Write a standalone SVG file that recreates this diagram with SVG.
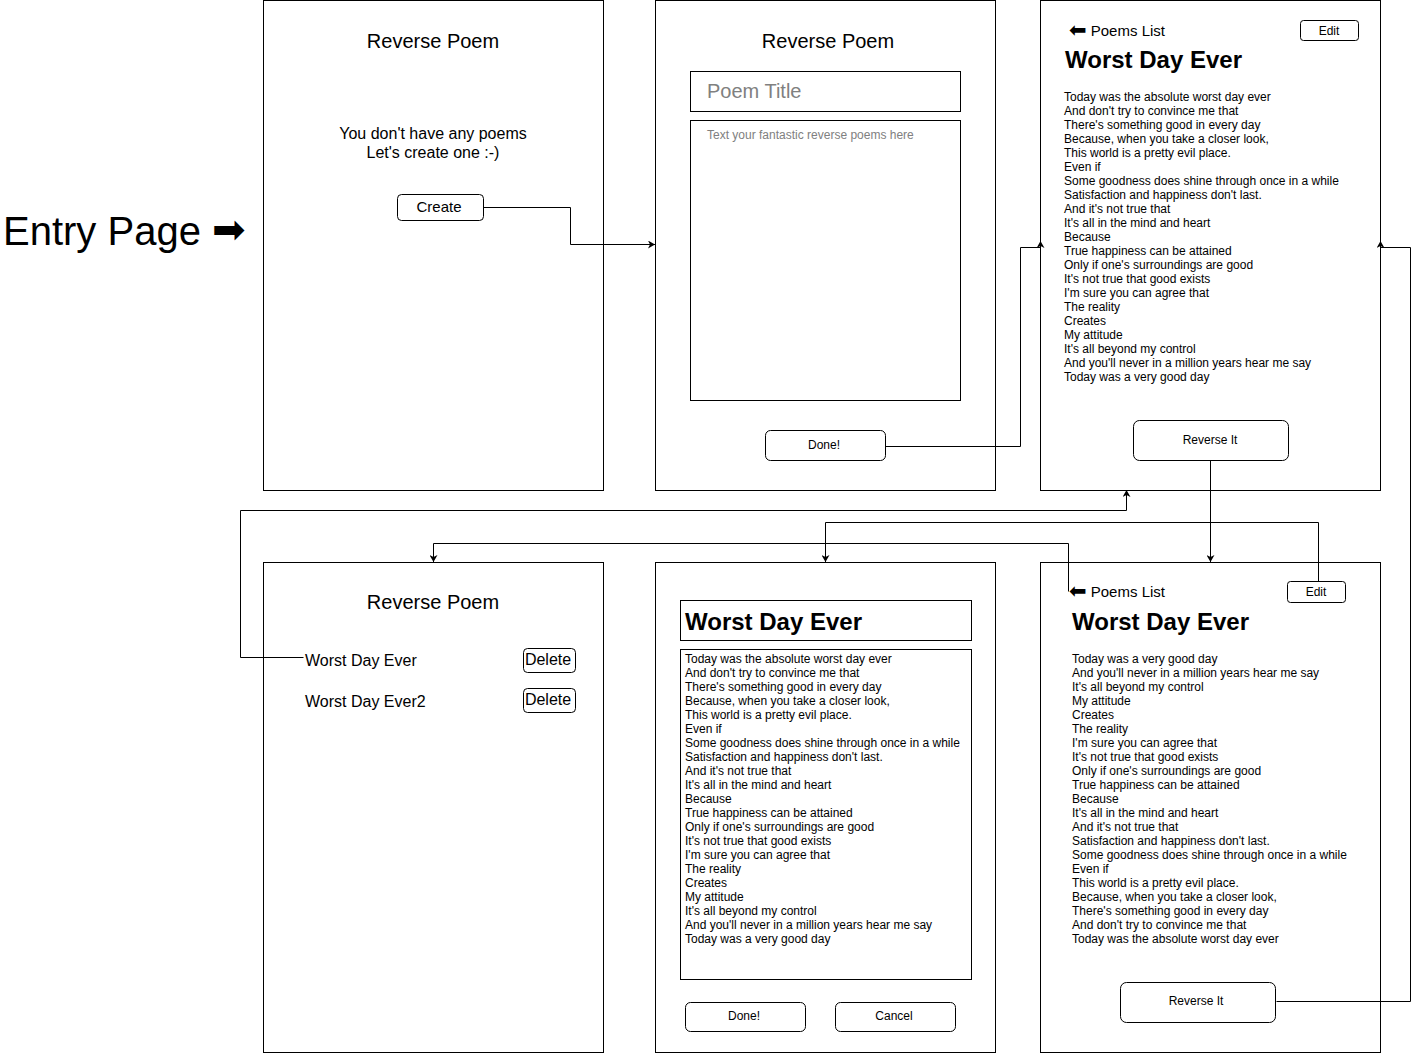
<svg xmlns="http://www.w3.org/2000/svg" width="1421" height="1053" viewBox="0 0 1421 1053">
<defs>
<marker id="arr" markerWidth="8" markerHeight="8" refX="7" refY="4" orient="auto" markerUnits="userSpaceOnUse">
<path d="M0,0 L7,4 L0,8 L2,4 Z" fill="#000"/>
</marker>
</defs>
<style>
text{font-family:"Liberation Sans",Arial,"DejaVu Sans",sans-serif;fill:#000}
.frame{fill:#fff;stroke:#000;stroke-width:1}
.box{fill:#fff;stroke:#000;stroke-width:1}
.btn{fill:#fff;stroke:#000;stroke-width:1}
.h{font-size:20px;text-anchor:middle}
.t15{font-size:15px}
.t16{font-size:16px}
.t12{font-size:12px}
.c{text-anchor:middle}
.b24{font-size:24px;font-weight:bold}
.gray{fill:#808080}
.sym{font-family:"DejaVu Sans",sans-serif}
.conn{fill:none;stroke:#000;stroke-width:1}
</style>
<rect width="1421" height="1053" fill="#fff"/>

<g id="entry-label">
<text x="3" y="245" style="font-size:40px">Entry Page <tspan class="sym" style="font-size:40px" dy="-2">➡</tspan></text>
</g>

<g id="screen-empty">
<rect class="frame" x="263.5" y="0.5" width="340" height="490"/>
<text class="h" x="433" y="48">Reverse Poem</text>
<text class="t16 c" x="433" y="139">You don't have any poems</text>
<text class="t16 c" x="433" y="158">Let's create one :-)</text>
<rect class="btn" x="397.5" y="194.5" width="86" height="26" rx="4"/>
<text class="t15 c" x="439" y="212">Create</text>
</g>

<g id="screen-new">
<rect class="frame" x="655.5" y="0.5" width="340" height="490"/>
<text class="h" x="828" y="48">Reverse Poem</text>
<rect class="box" x="690.5" y="71.5" width="270" height="40"/>
<text class="gray" x="707" y="98" style="font-size:20px">Poem Title</text>
<rect class="box" x="690.5" y="120.5" width="270" height="280"/>
<text class="t12 gray" x="707" y="139">Text your fantastic reverse poems here</text>
<rect class="btn" x="765.5" y="430.5" width="120" height="30" rx="5"/>
<text class="t12 c" x="824" y="449">Done!</text>
</g>

<g id="screen-view">
<rect class="frame" x="1040.5" y="0.5" width="340" height="490"/>
<text class="t15" x="1069" y="36"><tspan class="sym" style="font-size:21px" dy="1">⬅</tspan><tspan dy="-1"> Poems List</tspan></text>
<rect class="btn" x="1300.5" y="20.5" width="58" height="20" rx="3"/>
<text class="t12 c" x="1329" y="35">Edit</text>
<text class="b24" x="1065" y="68">Worst Day Ever</text>
<text class="t12" x="1064" y="101">
<tspan x="1064" dy="0">Today was the absolute worst day ever</tspan>
<tspan x="1064" dy="14">And don't try to convince me that</tspan>
<tspan x="1064" dy="14">There's something good in every day</tspan>
<tspan x="1064" dy="14">Because, when you take a closer look,</tspan>
<tspan x="1064" dy="14">This world is a pretty evil place.</tspan>
<tspan x="1064" dy="14">Even if</tspan>
<tspan x="1064" dy="14">Some goodness does shine through once in a while</tspan>
<tspan x="1064" dy="14">Satisfaction and happiness don't last.</tspan>
<tspan x="1064" dy="14">And it's not true that</tspan>
<tspan x="1064" dy="14">It's all in the mind and heart</tspan>
<tspan x="1064" dy="14">Because</tspan>
<tspan x="1064" dy="14">True happiness can be attained</tspan>
<tspan x="1064" dy="14">Only if one's surroundings are good</tspan>
<tspan x="1064" dy="14">It's not true that good exists</tspan>
<tspan x="1064" dy="14">I'm sure you can agree that</tspan>
<tspan x="1064" dy="14">The reality</tspan>
<tspan x="1064" dy="14">Creates</tspan>
<tspan x="1064" dy="14">My attitude</tspan>
<tspan x="1064" dy="14">It's all beyond my control</tspan>
<tspan x="1064" dy="14">And you'll never in a million years hear me say</tspan>
<tspan x="1064" dy="14">Today was a very good day</tspan>
</text>
<rect class="btn" x="1133.5" y="420.5" width="155" height="40" rx="6"/>
<text class="t12 c" x="1210" y="444">Reverse It</text>
</g>

<g id="screen-list">
<rect class="frame" x="263.5" y="562.5" width="340" height="490"/>
<text class="h" x="433" y="609">Reverse Poem</text>
<text class="t16" x="305" y="666">Worst Day Ever</text>
<text class="t16" x="305" y="707">Worst Day Ever2</text>
<rect class="btn" x="523.5" y="648.5" width="52" height="24" rx="4"/>
<text class="t16 c" x="548" y="665">Delete</text>
<rect class="btn" x="523.5" y="688.5" width="52" height="24" rx="4"/>
<text class="t16 c" x="548" y="705">Delete</text>
</g>

<g id="screen-edit">
<rect class="frame" x="655.5" y="562.5" width="340" height="490"/>
<rect class="box" x="680.5" y="600.5" width="291" height="40"/>
<text class="b24" x="685" y="630">Worst Day Ever</text>
<rect class="box" x="680.5" y="649.5" width="291" height="330"/>
<text class="t12" x="685" y="663">
<tspan x="685" dy="0">Today was the absolute worst day ever</tspan>
<tspan x="685" dy="14">And don't try to convince me that</tspan>
<tspan x="685" dy="14">There's something good in every day</tspan>
<tspan x="685" dy="14">Because, when you take a closer look,</tspan>
<tspan x="685" dy="14">This world is a pretty evil place.</tspan>
<tspan x="685" dy="14">Even if</tspan>
<tspan x="685" dy="14">Some goodness does shine through once in a while</tspan>
<tspan x="685" dy="14">Satisfaction and happiness don't last.</tspan>
<tspan x="685" dy="14">And it's not true that</tspan>
<tspan x="685" dy="14">It's all in the mind and heart</tspan>
<tspan x="685" dy="14">Because</tspan>
<tspan x="685" dy="14">True happiness can be attained</tspan>
<tspan x="685" dy="14">Only if one's surroundings are good</tspan>
<tspan x="685" dy="14">It's not true that good exists</tspan>
<tspan x="685" dy="14">I'm sure you can agree that</tspan>
<tspan x="685" dy="14">The reality</tspan>
<tspan x="685" dy="14">Creates</tspan>
<tspan x="685" dy="14">My attitude</tspan>
<tspan x="685" dy="14">It's all beyond my control</tspan>
<tspan x="685" dy="14">And you'll never in a million years hear me say</tspan>
<tspan x="685" dy="14">Today was a very good day</tspan>
</text>
<rect class="btn" x="685.5" y="1002.5" width="120" height="29" rx="5"/>
<text class="t12 c" x="744" y="1020">Done!</text>
<rect class="btn" x="835.5" y="1002.5" width="120" height="29" rx="5"/>
<text class="t12 c" x="894" y="1020">Cancel</text>
</g>

<g id="screen-reversed">
<rect class="frame" x="1040.5" y="562.5" width="340" height="490"/>
<text class="t15" x="1069" y="597"><tspan class="sym" style="font-size:21px" dy="1">⬅</tspan><tspan dy="-1"> Poems List</tspan></text>
<rect class="btn" x="1287.5" y="581.5" width="58" height="21" rx="3"/>
<text class="t12 c" x="1316" y="596">Edit</text>
<text class="b24" x="1072" y="630">Worst Day Ever</text>
<text class="t12" x="1072" y="663">
<tspan x="1072" dy="0">Today was a very good day</tspan>
<tspan x="1072" dy="14">And you'll never in a million years hear me say</tspan>
<tspan x="1072" dy="14">It's all beyond my control</tspan>
<tspan x="1072" dy="14">My attitude</tspan>
<tspan x="1072" dy="14">Creates</tspan>
<tspan x="1072" dy="14">The reality</tspan>
<tspan x="1072" dy="14">I'm sure you can agree that</tspan>
<tspan x="1072" dy="14">It's not true that good exists</tspan>
<tspan x="1072" dy="14">Only if one's surroundings are good</tspan>
<tspan x="1072" dy="14">True happiness can be attained</tspan>
<tspan x="1072" dy="14">Because</tspan>
<tspan x="1072" dy="14">It's all in the mind and heart</tspan>
<tspan x="1072" dy="14">And it's not true that</tspan>
<tspan x="1072" dy="14">Satisfaction and happiness don't last.</tspan>
<tspan x="1072" dy="14">Some goodness does shine through once in a while</tspan>
<tspan x="1072" dy="14">Even if</tspan>
<tspan x="1072" dy="14">This world is a pretty evil place.</tspan>
<tspan x="1072" dy="14">Because, when you take a closer look,</tspan>
<tspan x="1072" dy="14">There's something good in every day</tspan>
<tspan x="1072" dy="14">And don't try to convince me that</tspan>
<tspan x="1072" dy="14">Today was the absolute worst day ever</tspan>
</text>
<rect class="btn" x="1120.5" y="982.5" width="155" height="40" rx="6"/>
<text class="t12 c" x="1196" y="1005">Reverse It</text>
</g>

<g id="connectors">
<path class="conn" d="M483.5,207.5 H570.5 V244.5 H655" marker-end="url(#arr)"/>
<path class="conn" d="M885.5,446.5 H1020.5 V247.5 H1040.5 V241" marker-end="url(#arr)"/>
<path class="conn" d="M1210.5,460.5 V562" marker-end="url(#arr)"/>
<path class="conn" d="M1318.5,581.5 V522.5 H825.5 V562" marker-end="url(#arr)"/>
<path class="conn" d="M1068.5,591.5 V543.5 H433.5 V562" marker-end="url(#arr)"/>
<path class="conn" d="M303.5,657.5 H240.5 V510.5 H1126.5 V490" marker-end="url(#arr)"/>
<path class="conn" d="M1276.5,1001.5 H1410.5 V247.5 H1380.5 V241" marker-end="url(#arr)"/>
</g>
</svg>
